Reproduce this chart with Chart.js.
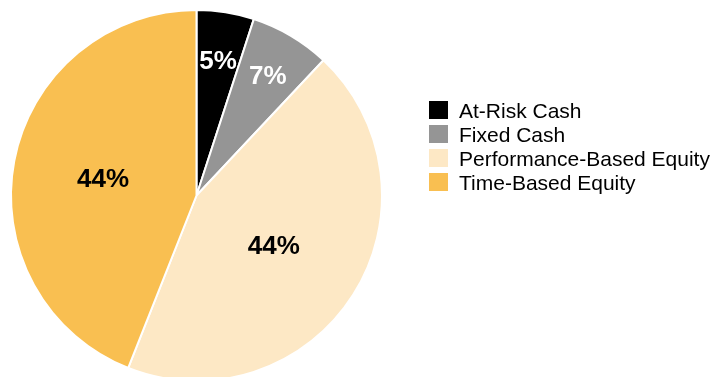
<!DOCTYPE html>
<html>
<head>
<meta charset="utf-8">
<script src="https://cdn.jsdelivr.net/npm/chart.js@4"></script>
<style>
  html, body { margin: 0; padding: 0; background: #fff; overflow: hidden; }
  #wrap { position: relative; width: 723px; height: 377px; }
  #legend { position: absolute; left: 429px; top: 101px; font-family: "Liberation Sans", Arial, sans-serif; font-size: 21px; color: #000; }
  #legend div { height: 24px; line-height: 19px; white-space: nowrap; }
  #legend span.box { display: inline-block; width: 19px; height: 18px; vertical-align: top; margin-right: 11px; }
</style>
</head>
<body>
<div id="wrap">
  <canvas id="comp_pie"></canvas>
  <div id="legend"></div>
</div>
<script>
labels = ['At-Risk Cash', 'Fixed Cash', 'Performance-Based Equity', 'Time-Based Equity']
values = [5, 7, 44, 44]
colors = ['#000000', '#959595', '#FDE8C5', '#F9BF51']
labelColors = ['#ffffff', '#ffffff', '#000000', '#000000']
labelRadius = [0.74, 0.755, 0.494, 0.513]

// percent labels drawn inside each slice, cap height centred on the point
pctLabels = {
    id: 'pctLabels',
    afterDatasetsDraw(chart) {
        const ctx = chart.ctx
        const meta = chart.getDatasetMeta(0)
        ctx.save()
        ctx.font = 'bold 26px "Liberation Sans", Arial, sans-serif'
        ctx.textAlign = 'center'
        ctx.textBaseline = 'alphabetic'
        meta.data.forEach((arc, i) => {
            const p = arc.getProps(['x', 'y', 'startAngle', 'endAngle', 'outerRadius'], true)
            const mid = (p.startAngle + p.endAngle) / 2
            const r = p.outerRadius * labelRadius[i]
            ctx.fillStyle = labelColors[i]
            ctx.fillText(values[i] + '%', p.x + Math.cos(mid) * r, p.y + Math.sin(mid) * r + 9.5)
        })
        ctx.restore()
    }
}

config = {
    type: 'pie',
    data: {
        labels,
        datasets: [{
            data: values,
            backgroundColor: colors,
            borderColor: '#ffffff',
            borderWidth: 2,
        }]
    },
    options: {
        responsive: true,
        maintainAspectRatio: false,
        animation: false,
        radius: 185.5,
        layout: { padding: { left: 0, top: 14, right: 330, bottom: 0 } },
        plugins: {
            legend: { display: false },
            tooltip: { enabled: false },
        },
    },
    plugins: [pctLabels]
};

legendEl = document.getElementById('legend')
labels.forEach((l, i) => {
    const row = document.createElement('div')
    row.innerHTML = '<span class="box" style="background:' + colors[i] + '"></span>' + l
    legendEl.appendChild(row)
})

ctx = document.getElementById('comp_pie');
new Chart(ctx, config);
</script>
</body>
</html>
